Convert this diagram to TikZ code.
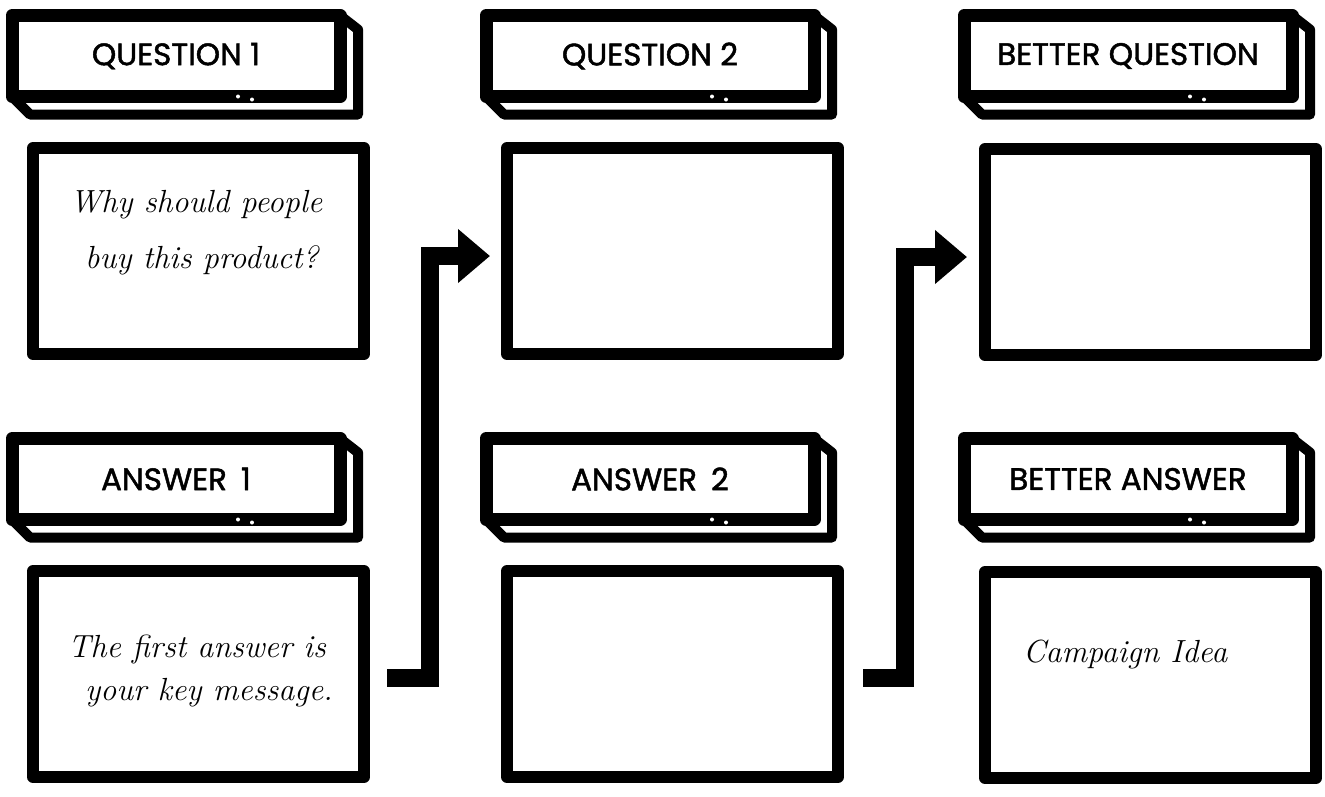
\documentclass[tikz,border=0pt]{standalone}
\usepackage{fontspec}
\newfontfamily\hdrfont[FakeBold=1.5]{Poppins}
\usetikzlibrary{calc,arrows.meta}
\tikzset{
  x=1pt, y=-1pt,
  hdrface/.style={draw=black, fill=white, line width=13pt, outer sep=0pt, minimum width=328pt, minimum height=81pt, inner sep=0pt, font=\hdrfont\fontsize{31}{34}\selectfont, line join=round},
  hdrside/.style={draw=black, line width=10pt, line join=round, line cap=round},
  cbox/.style={draw=black, fill=white, line width=12pt, outer sep=0pt, minimum width=331pt, minimum height=206pt, inner sep=0pt, line join=round},
  hand/.style={font=\itshape\fontsize{32}{40}\selectfont, inner sep=0pt},
  flow/.style={draw=black, line width=18pt, line join=miter, -{Triangle[length=32pt,width=52pt]}},
  led/.style={fill=white, draw=none}
}
\newcommand\hdrblock[4]{%
  \node[hdrface] (#1) at (#2,#3) {#4};
  \draw[hdrside] (#1.north east) -- ++(18,14) -- ($(#1.south east)+(18,18)$) -- ($(#1.south west)+(18,18)$) -- (#1.south west);
  \fill[led] ($(#1.south)+(62,0)$) circle (2pt) ($(#1.south)+(76,3)$) circle (2pt);
}
\begin{document}
\begin{tikzpicture}
\fill[white] (0,0) rectangle (1325,796);
\useasboundingbox (0,0) rectangle (1325,796);

\hdrblock{hq1}{176}{56}{QUESTION 1}
\hdrblock{hq2}{650}{56}{QUESTION 2}
\hdrblock{hq3}{1128}{56}{BETTER QUESTION}
\hdrblock{ha1}{176}{479}{ANSWER\hspace{14pt}1}
\hdrblock{ha2}{650}{479}{ANSWER\hspace{14pt}2}
\hdrblock{ha3}{1128}{479}{BETTER ANSWER}

\node[cbox] (bq1) at (198.5,251) {};
\node[cbox] (bq2) at (672.5,251) {};
\node[cbox] (bq3) at (1150.5,252) {};
\node[cbox] (ba1) at (198.5,674) {};
\node[cbox] (ba2) at (672.5,674) {};
\node[cbox] (ba3) at (1150.5,675) {};

\node[hand, anchor=base west] (tq1a) at (70,212) {Why should people};
\node[hand, anchor=base west] (tq1b) at (85,268) {buy this product?};
\node[hand, anchor=base west] (ta1a) at (68,657) {The first answer is};
\node[hand, anchor=base west] (ta1b) at (85,700) {your key message.};
\node[hand, anchor=base west] (ta3) at (1023,662) {Campaign Idea};

\coordinate (s1) at ($(ba1.east)+(23,4)$);
\coordinate (e1) at ($(bq2.west)+(-17,5)$);
\draw[flow] (s1) -- ++(43,0) |- (e1);
\coordinate (s2) at ($(ba2.east)+(25,4)$);
\coordinate (e2) at ($(bq3.west)+(-18,5)$);
\draw[flow] (s2) -- ++(42,0) |- (e2);
\end{tikzpicture}
\end{document}
